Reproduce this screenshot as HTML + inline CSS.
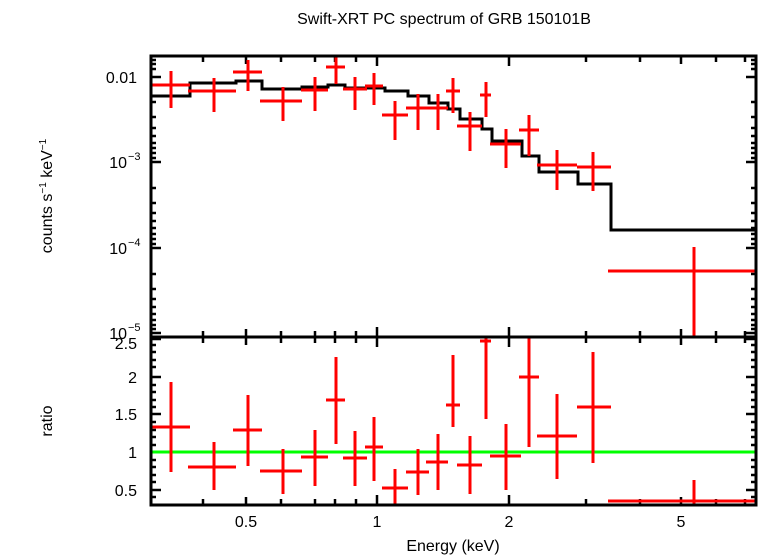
<!DOCTYPE html>
<html><head><meta charset="utf-8"><style>
html,body{margin:0;padding:0;background:#fff;}
svg{display:block;font-family:"Liberation Sans",sans-serif;}
</style></head><body>
<svg width="758" height="556" viewBox="0 0 758 556" xmlns="http://www.w3.org/2000/svg">
<rect width="758" height="556" fill="#fff"/>
<text x="444" y="24" font-size="16" text-anchor="middle">Swift-XRT PC spectrum of GRB 150101B</text>

<g stroke="#000" stroke-width="2.5" fill="none">
<path d="M203 56v6M246 56v8M281 56v6M315 56v6M335 56v6M356 56v6M377 56v10M509 56v10M586 56v6M640 56v6M681 56v8M716 56v6M745 56v6
M203 337v-6M246 337v-8M281 337v-6M315 337v-6M335 337v-6M356 337v-6M377 337v-10M509 337v-10M586 337v-6M640 337v-6M681 337v-8M716 337v-6M745 337v-6
M203 337v6M246 337v8M281 337v6M315 337v6M335 337v6M356 337v6M377 337v10M509 337v10M586 337v6M640 337v6M681 337v8M716 337v6M745 337v6
M203 505v-6M246 505v-8M281 505v-6M315 505v-6M335 505v-6M356 505v-6M377 505v-10M509 505v-10M586 505v-6M640 505v-6M681 505v-8M716 505v-6M745 505v-6"/>
<path d="M151 77h10M151 162h10M151 248h10M151 333h10
M151 56h5M151 60h5M151 64h5M151 69h5M151 102h5M151 117h5M151 128h5M151 136h5M151 143h5M151 148h5M151 153h5M151 158h5
M151 188h5M151 203h5M151 213h5M151 221h5M151 228h5M151 234h5M151 239h5M151 244h5
M151 274h5M151 289h5M151 299h5M151 307h5M151 314h5M151 320h5M151 325h5M151 329h5
M756 77h-10M756 162h-10M756 248h-10M756 333h-10
M756 56h-5M756 60h-5M756 64h-5M756 69h-5M756 102h-5M756 117h-5M756 128h-5M756 136h-5M756 143h-5M756 148h-5M756 153h-5M756 158h-5
M756 188h-5M756 203h-5M756 213h-5M756 221h-5M756 228h-5M756 234h-5M756 239h-5M756 244h-5
M756 274h-5M756 289h-5M756 299h-5M756 307h-5M756 314h-5M756 320h-5M756 325h-5M756 329h-5"/>
<path d="M151 377h10M151 414h10M151 452h10M151 490h10M151 339h10
M151 345h5M151 352h5M151 360h5M151 367h5M151 385h5M151 392h5M151 400h5M151 407h5M151 422h5M151 430h5M151 437h5M151 445h5M151 460h5M151 467h5M151 475h5M151 482h5M151 497h5
M756 377h-10M756 414h-10M756 452h-10M756 490h-10M756 339h-10
M756 345h-5M756 352h-5M756 360h-5M756 367h-5M756 385h-5M756 392h-5M756 400h-5M756 407h-5M756 422h-5M756 430h-5M756 437h-5M756 445h-5M756 460h-5M756 467h-5M756 475h-5M756 482h-5M756 497h-5"/>
</g>

<polyline fill="none" stroke="#000" stroke-width="3" points="151,96 190,96 190,83 236,83 236,81 262,81 262,89 302,89 302,87 328,87 328,85 345,85 345,88 385,88 385,91 408,91 408,96 429,96 429,103 448,103 448,109 460,109 460,119 482,119 482,129 492,129 492,141 522,141 522,156 539,156 539,172 578,172 578,184 611,184 611,230 756,230"/>

<g stroke="#f00" stroke-width="3" fill="none">
<path d="M151 85h39M171 71v37
M188 91h48M214 78v34
M233 72h29M248 60v31
M260 101h42M283 87v34
M301 90h27M315 77v34
M326 67h19M336 56v28
M343 89h24M355 77v33
M365 86h18M374 73v32
M382 115h26M395 101v39
M406 108h23M418 94v36
M426 108h22M438 94v36
M446 91h14M453 78v35
M457 126h25M470 112v39
M480 95h11M486 82v35
M490 144h31M506 129v39
M519 130h20M529 115v41
M537 165h40M557 150v40
M577 167h34M593 152v39
M608 271h148M694 247v90"/>
</g>

<line x1="151" y1="452" x2="756" y2="452" stroke="#0f0" stroke-width="3"/>
<g stroke="#f00" stroke-width="3" fill="none">
<path d="M151 427h39M171 382v90
M188 467h48M214 442v48
M233 430h29M248 395v71
M260 471h42M283 449v45
M301 457h27M315 430v56
M326 400h19M336 357v87
M343 458h24M355 431v55
M365 447h18M374 417v64
M382 488h26M395 469v36
M406 472h23M418 449v46
M426 462h22M438 434v56
M446 405h14M453 355v72
M457 465h25M470 436v58
M480 341h11M486 337v82
M490 456h31M506 424v66
M519 377h20M529 337v110
M537 436h40M557 394v85
M577 407h34M593 352v111
M608 501h148M694 480v25"/>
</g>

<rect x="151" y="56" width="605" height="449" fill="none" stroke="#000" stroke-width="3"/>
<line x1="151" y1="337" x2="756" y2="337" stroke="#000" stroke-width="3"/>

<g font-size="16" text-anchor="end">
<text x="137" y="83">0.01</text>
<text x="127" y="168">10</text><text x="128" y="160" font-size="11" text-anchor="start">−3</text>
<text x="127" y="254">10</text><text x="128" y="246" font-size="11" text-anchor="start">−4</text>
<text x="127" y="339">10</text><text x="128" y="331" font-size="11" text-anchor="start">−5</text>
</g>
<g font-size="16" text-anchor="end">
<text x="137" y="349">2.5</text>
<text x="137" y="383">2</text>
<text x="137" y="420">1.5</text>
<text x="137" y="458">1</text>
<text x="137" y="496">0.5</text>
</g>
<g font-size="16" text-anchor="middle">
<text x="246" y="527">0.5</text>
<text x="377" y="527">1</text>
<text x="509" y="527">2</text>
<text x="681" y="527">5</text>
<text x="453" y="551">Energy (keV)</text>
</g>
<text transform="translate(52,196) rotate(-90)" font-size="16" text-anchor="middle">counts s<tspan font-size="10" dy="-6">−1</tspan><tspan dy="6"> keV</tspan><tspan font-size="10" dy="-6">−1</tspan></text>
<text transform="translate(52,421) rotate(-90)" font-size="16" text-anchor="middle">ratio</text>
</svg>
</body></html>
